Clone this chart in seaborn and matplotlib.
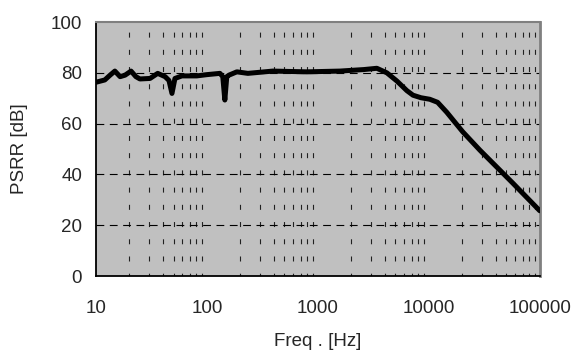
import numpy as np
import pandas as pd
import matplotlib
matplotlib.use("Agg")
import matplotlib.pyplot as plt
import seaborn as sns
from matplotlib.ticker import LogLocator, FixedLocator, NullFormatter

# PSRR curve
freq_hz = [10, 12, 13.4, 14.8, 16.5, 18.3, 20.7, 22.9, 24.9, 30.7, 36, 42,
           45.5, 48.4, 51.5, 59.5, 81, 100, 131, 139, 145, 151, 158, 186, 234,
           393, 796, 1580, 2600, 3400, 4190, 5150, 6340, 7200, 8500, 10200,
           12000, 14500, 17000, 20200, 28800, 57100, 100000]
psrr_db = [76.3, 77.2, 79.1, 80.7, 78.5, 79.1, 80.7, 78.5, 77.6, 77.8, 79.8, 78.5,
           77.0, 71.9, 77.8, 78.8, 78.8, 79.3, 79.8, 78.5, 69.3, 78.5, 79.1, 80.4, 79.8,
           80.7, 80.4, 80.7, 81.3, 81.8, 80.0, 76.8, 73.0, 71.2, 70.2, 69.6,
           68.4, 64.5, 60.8, 56.8, 49.6, 36.6, 25.7]

x_ticks = [10, 100, 1000, 10000, 100000]
x_tick_labels = ["10", "100", "1000", "10000", "100000"]
y_ticks = [0, 20, 40, 60, 80, 100]

df = pd.DataFrame({"freq": freq_hz, "psrr": psrr_db})

sns.set_style("white")
plt.rcParams['font.family'] = ['Liberation Sans', 'DejaVu Sans']

fig = plt.figure(figsize=(5.73, 3.56), dpi=100)
ax = fig.add_axes([0.1675, 0.2247, 0.7745, 0.7133])
ax.set_facecolor("#C0C0C0")

sns.lineplot(data=df, x="freq", y="psrr", ax=ax, color="black", linewidth=3.6,
             solid_capstyle="round", solid_joinstyle="round", zorder=5)

ax.set_xscale("log")
ax.set_xlim(10, 100000)
ax.set_ylim(0, 100)

ax.xaxis.set_major_locator(FixedLocator(x_ticks))
ax.set_xticklabels(x_tick_labels)
ax.xaxis.set_minor_locator(LogLocator(base=10, subs=np.arange(2, 10)))
ax.xaxis.set_minor_formatter(NullFormatter())
ax.set_yticks(y_ticks)

# Excel-like dashed grid
ax.grid(which="minor", axis="x", color="#202020", linestyle=(2, (4.5, 11)), linewidth=0.8)
for y in y_ticks[1:-1]:
    ax.axhline(y, color="black", linestyle=(0, (7, 5)), linewidth=0.8, zorder=2)

ax.tick_params(axis="x", which="major", direction="in", length=4, width=1, labelsize=13.5, pad=17)
ax.tick_params(axis="x", which="minor", length=0)
ax.tick_params(axis="y", which="major", length=0, labelsize=13.5, pad=10)

ax.spines["left"].set_color("black")
ax.spines["bottom"].set_color("black")
ax.spines["left"].set_linewidth(1.3)
ax.spines["bottom"].set_linewidth(1.3)
ax.spines["top"].set_color("#808080")
ax.spines["right"].set_color("#808080")
ax.spines["top"].set_linewidth(1.5)
ax.spines["right"].set_linewidth(2)

ax.set_xlabel("Freq . [Hz]", fontsize=13.5, labelpad=12)
ax.set_ylabel("PSRR [dB]", fontsize=13.5, labelpad=16)

fig.savefig("out.png", dpi=100)
